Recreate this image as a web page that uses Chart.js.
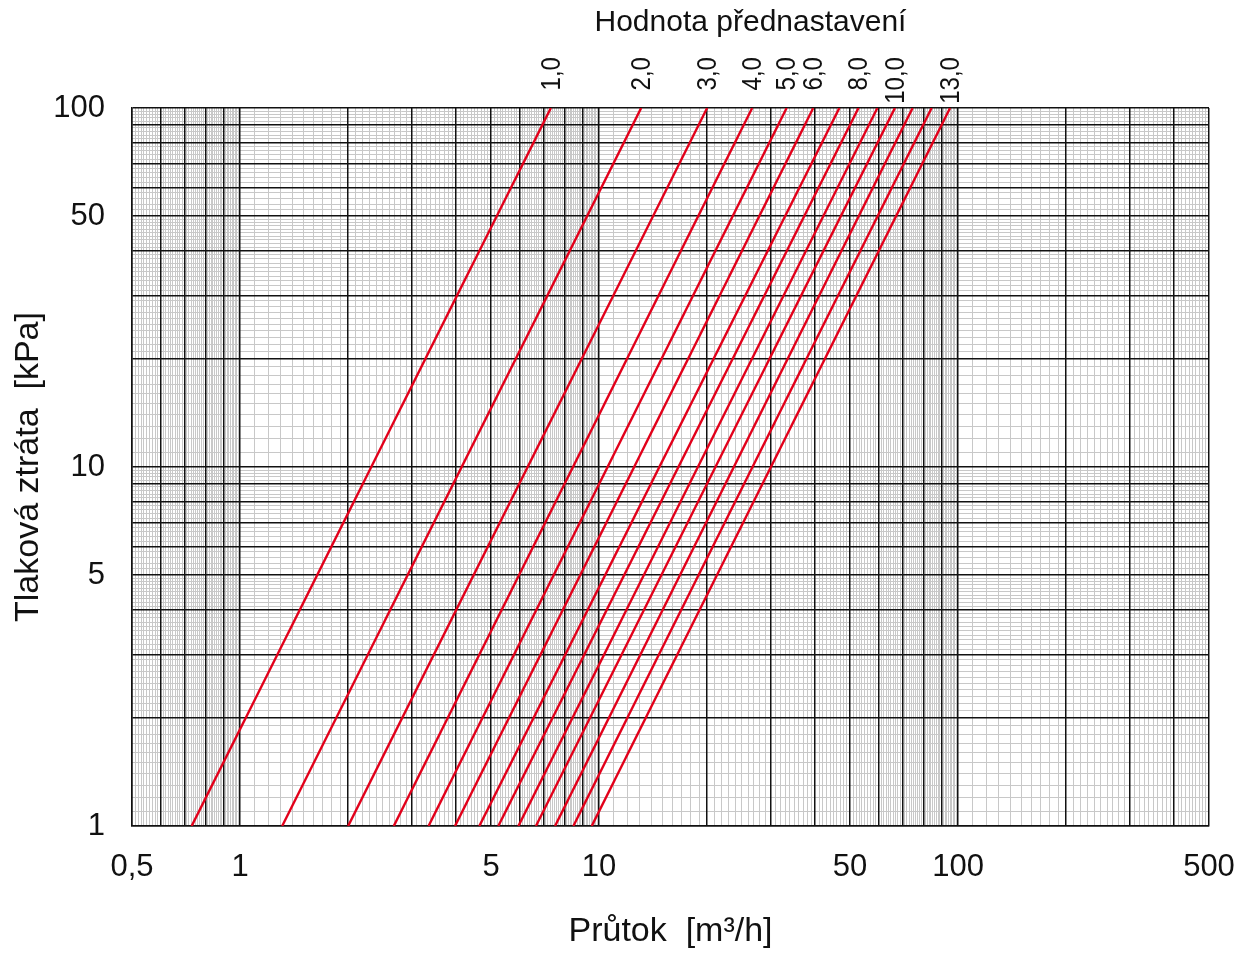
<!DOCTYPE html>
<html lang="cs">
<head>
<meta charset="utf-8">
<title>Tlaková ztráta</title>
<script src="https://cdn.jsdelivr.net/npm/chart.js@4.4.1/dist/chart.umd.min.js"></script>
<style>
	html, body { margin: 0; padding: 0; background: #fff; }
	#wrap { width: 1241px; height: 957px; }
</style>
</head>
<body>
<div id="wrap"><canvas id="chart" width="1241" height="957"></canvas></div>
<script>
"use strict";

// Valve preset curves: label above the curve (empty = unlabelled curve)
const settingLabels = ["1,0", "2,0", "3,0", "4,0", "5,0", "6,0", "", "8,0", "", "10,0", "", "", "13,0"];
// Flow [m3/h] where each preset curve crosses 1 kPa and 100 kPa
const flowAt1kPa = [0.733, 1.31, 2.0, 2.68, 3.35, 3.97, 4.64, 5.24, 5.96, 6.67, 7.54, 8.48, 9.54];
const flowAt100kPa = [7.34, 13.1, 20.0, 26.7, 33.3, 39.5, 46.7, 52.8, 59.6, 66.7, 74.7, 84.4, 95.0];

const xTickValues = [0.5, 1, 5, 10, 50, 100, 500];
const xTickLabels = ["0,5", "1", "5", "10", "50", "100", "500"];
const yTickValues = [1, 5, 10, 50, 100];
const yTickLabels = ["1", "5", "10", "50", "100"];

const X_MIN = 0.5, X_MAX = 500;
const Y_MIN = 1, Y_MAX = 100;

const FONT = '"Liberation Sans", Arial, Helvetica, sans-serif';
const TEXT = "#111";
const RED = "#e2001a";

function round6(v) {
	return Math.round(v * 1e6) / 1e6;
}

// Grid lines of the log paper: major at every integer multiple of a decade,
// minor every `step(k)` inside [k, k+1) of the decade.
function majorGrid(min, max) {
	const out = [];
	for (let e = -2; e <= 3; ++e) {
		for (let k = 1; k < 10; ++k) {
			const v = round6(k * Math.pow(10, e));
			if (v >= min - 1e-9 && v <= max + 1e-9) out.push(v);
		}
	}
	return out;
}

function minorGrid(min, max, step) {
	const out = [];
	for (let e = -2; e <= 3; ++e) {
		const p = Math.pow(10, e);
		for (let k = 1; k < 10; ++k) {
			const n = Math.round(1 / step(k));
			for (let j = 1; j < n; ++j) {
				const v = round6((k + j / n) * p);
				if (v >= min - 1e-9 && v <= max + 1e-9) out.push(v);
			}
		}
	}
	return out.sort((a, b) => a - b);
}

const xMajor = majorGrid(X_MIN, X_MAX);
const yMajor = majorGrid(Y_MIN, Y_MAX);
const xMinor = minorGrid(X_MIN, X_MAX, k => 0.1);
const yMinor = minorGrid(Y_MIN, Y_MAX, k => (k < 5 ? 0.1 : 0.2));

function labelFor(values, labels, v) {
	const i = values.findIndex(t => Math.abs(t - v) < 1e-9);
	return i < 0 ? "" : labels[i];
}

const setTicks = list => scale => {
	scale.ticks = list.map(v => ({ value: v }));
};

// Preset numbers on top of the curves and the caption above them
const presetLabels = {
	id: "presetLabels",
	afterDraw(chart) {
		const { ctx, scales: { x } } = chart;
		const xs = [];
		ctx.save();
		ctx.fillStyle = TEXT;
		ctx.font = "28px " + FONT;
		ctx.textAlign = "right";
		ctx.textBaseline = "middle";
		settingLabels.forEach((label, i) => {
			if (!label) return;
			const px = x.getPixelForValue(flowAt100kPa[i]);
			xs.push(px);
			ctx.save();
			ctx.translate(px + 1, 57);
			ctx.rotate(-Math.PI / 2);
			ctx.scale(0.86, 1); // narrow face
			ctx.fillText(label, 0, 0);
			ctx.restore();
		});
		ctx.font = "30px " + FONT;
		ctx.textAlign = "center";
		ctx.fillText("Hodnota přednastavení", (xs[0] + xs[xs.length - 1]) / 2, 23);
		ctx.restore();
	}
};

const datasets = flowAt1kPa.map((q1, i) => ({
	label: `Přednastavení ${i + 1}`,
	data: [{ x: q1, y: Y_MIN }, { x: flowAt100kPa[i], y: Y_MAX }],
	borderColor: RED,
	backgroundColor: RED,
	borderWidth: 2.4,
	pointRadius: 0,
	fill: false,
	tension: 0,
}));

const minorGridOpts = {
	color: "#c8c8c8",
	lineWidth: 1,
	drawTicks: false,
	z: -2,
};

const majorGridOpts = {
	color: "#111",
	lineWidth: 1.5,
	drawTicks: false,
	z: -1,
};

new Chart(document.getElementById("chart"), {
	type: "line",
	data: { datasets },
	plugins: [presetLabels],
	options: {
		responsive: false,
		animation: false,
		layout: { padding: { top: 108, right: 32, bottom: 0, left: 0 } },
		plugins: {
			legend: { display: false },
			tooltip: { enabled: false },
			title: { display: false },
		},
		scales: {
			xMinor: {
				type: "logarithmic",
				position: "bottom",
				min: X_MIN,
				max: X_MAX,
				afterBuildTicks: setTicks(xMinor),
				afterFit: s => { s.height = 0; },
				ticks: { display: false, autoSkip: false },
				grid: minorGridOpts,
				border: { display: false },
			},
			yMinor: {
				type: "logarithmic",
				position: "left",
				min: Y_MIN,
				max: Y_MAX,
				afterBuildTicks: setTicks(yMinor),
				afterFit: s => { s.width = 0; },
				ticks: { display: false, autoSkip: false },
				grid: minorGridOpts,
				border: { display: false },
			},
			x: {
				type: "logarithmic",
				position: "bottom",
				min: X_MIN,
				max: X_MAX,
				afterBuildTicks: setTicks(xMajor),
				afterFit: s => {
					s.height = 131;
					// end labels may hang over the plot edges
					s.paddingLeft = 0;
					s.paddingRight = 0;
				},
				ticks: {
					autoSkip: false,
					maxRotation: 0,
					minRotation: 0,
					padding: 23,
					color: TEXT,
					font: { family: FONT, size: 31 },
					callback: v => labelFor(xTickValues, xTickLabels, v),
				},
				grid: majorGridOpts,
				border: { color: "#111", width: 1.5 },
				title: {
					display: true,
					text: "Průtok  [m³/h]",
					color: TEXT,
					font: { family: FONT, size: 34 },
					padding: { top: 0, bottom: 5 },
				},
			},
			y: {
				type: "logarithmic",
				position: "left",
				min: Y_MIN,
				max: Y_MAX,
				afterBuildTicks: setTicks(yMajor),
				afterFit: s => { s.width = 132; },
				ticks: {
					autoSkip: false,
					padding: 27,
					color: TEXT,
					font: { family: FONT, size: 31 },
					callback: v => labelFor(yTickValues, yTickLabels, v),
				},
				grid: majorGridOpts,
				border: { color: "#111", width: 1.5 },
				title: {
					display: true,
					text: "Tlaková ztráta  [kPa]",
					color: TEXT,
					font: { family: FONT, size: 34 },
					padding: { top: 8, bottom: 0 },
				},
			},
		},
	},
});
</script>
</body>
</html>
